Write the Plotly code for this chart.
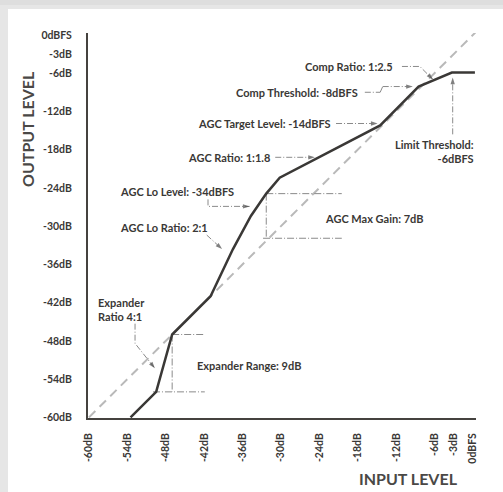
import plotly.graph_objects as go

# Transfer curve of the level processor (input dB -> output dB)
input_db = [-53.5, -49.5, -47.0, -41.0, -37.5, -34.7, -32.3, -30.2, -14.5, -8.5, -3.3, 0.3]
output_db = [-60.0, -56.0, -47.0, -41.0, -33.6, -28.4, -24.9, -22.4, -14.2, -8.1, -5.9, -5.9]

# Unity-gain reference
unity_db = [-60.0, 0.5]

# Axis ticks
tick_vals = [-60, -54, -48, -42, -36, -30, -24, -18, -12, -6, -3, 0]
tick_text = ["-60dB", "-54dB", "-48dB", "-42dB", "-36dB", "-30dB", "-24dB",
             "-18dB", "-12dB", "-6dB", "-3dB", "0dBFS"]

W, H = 503, 492
M_L, M_R, M_T, M_B = 88, 27, 33, 74
PW, PH = W - M_L - M_R, H - M_T - M_B

FONT = "Lato"
INK = "#3a3836"
GUIDE = "#8a8a8a"


def paper_x(px):
    return (px - M_L) / PW


def paper_y(py):
    return (H - M_B - py) / PH


fig = go.Figure()

# unity line
fig.add_trace(go.Scatter(x=unity_db, y=unity_db, mode="lines",
                         line=dict(color="#b9b9b9", width=2, dash="9px,6px"),
                         hoverinfo="skip", showlegend=False))

# guide brackets (expander range, AGC max gain)
guides = [
    ([-47.0, -41.9], [-47.0, -47.0]),
    ([-50.0, -41.9], [-56.0, -56.0]),
    ([-47.0, -47.0], [-47.0, -56.0]),
    ([-32.3, -20.5], [-24.9, -24.9]),
    ([-32.8, -20.5], [-31.9, -31.9]),
    ([-32.3, -32.3], [-24.9, -31.9]),
]
for gx, gy in guides:
    fig.add_trace(go.Scatter(x=gx, y=gy, mode="lines",
                             line=dict(color=GUIDE, width=1, dash="7px,2px,1px,2px"),
                             hoverinfo="skip", showlegend=False))

# main curve
fig.add_trace(go.Scatter(x=input_db, y=output_db, mode="lines",
                         line=dict(color=INK, width=2.5),
                         hoverinfo="skip", showlegend=False))

# callout leaders ending in arrowheads
leaders = [
    ([-11.1, -8.3, -6.25], [-4.95, -4.95, -7.0]),
    ([-16.9, -14.5, -14.1, -9.4], [-9.0, -9.0, -8.1, -8.1]),
    ([-21.4, -14.9], [-13.9, -13.9]),
    ([-30.9, -24.7], [-19.2, -19.2]),
    ([-41.4, -41.4, -34.9], [-25.8, -26.9, -26.9]),
    ([-41.6, -39.2], [-31.4, -33.6]),
    ([-3.17, -3.17], [-15.6, -6.7]),
    ([-52.8, -52.8, -49.7], [-45.3, -48.4, -52.3]),
]
for lx, ly in leaders:
    n = len(lx)
    fig.add_trace(go.Scatter(
        x=lx, y=ly, mode="lines+markers",
        line=dict(color=GUIDE, width=1, dash="6px,2px,1px,2px"),
        marker=dict(symbol=["circle"] * (n - 1) + ["arrow"],
                    size=[0] * (n - 1) + [7],
                    angleref="previous", color="#4a4a4a",
                    line=dict(width=0)),
        hoverinfo="skip", showlegend=False))

labels = [
    ("Comp Ratio: 1:2.5", -12.2, -5.0, "right"),
    ("Comp Threshold: -8dBFS", -17.7, -9.06, "right"),
    ("AGC Target Level: -14dBFS", -21.9, -13.9, "right"),
    ("AGC Ratio: 1:1.8", -31.4, -19.2, "right"),
    ("AGC Lo Level: -34dBFS", -55.5, -24.5, "left"),
    ("AGC Lo Ratio: 2:1", -55.5, -30.2, "left"),
    ("AGC Max Gain: 7dB", -23.4, -28.75, "left"),
    ("Limit Threshold:<br>-6dBFS", 0.4, -18.3, "right"),
    ("Expander<br>Ratio 4:1", -58.9, -43.0, "left"),
    ("Expander Range: 9dB", -43.4, -51.9, "left"),
]
for text, ax_, ay_, anchor in labels:
    fig.add_annotation(x=ax_, y=ay_, text=text, showarrow=False,
                       xanchor=anchor, yanchor="middle", align=anchor,
                       font=dict(family=FONT, size=11, color=INK, weight="bold"))

# axis titles
fig.add_annotation(x=paper_x(27), y=paper_y(129), xref="paper", yref="paper",
                   xanchor="center", yanchor="middle",
                   text="OUTPUT LEVEL", textangle=-90, showarrow=False,
                   font=dict(family=FONT, size=16, color="#4a4846", weight="bold"))
fig.add_annotation(x=paper_x(408), y=paper_y(478), xref="paper", yref="paper",
                   xanchor="center", yanchor="middle",
                   text="INPUT LEVEL", showarrow=False,
                   font=dict(family=FONT, size=16, color="#4a4846", weight="bold"))

# card frame with soft grey border at top and left
shapes = [
    dict(type="rect", xref="paper", yref="paper", layer="below",
         x0=paper_x(-5), x1=paper_x(W + 5), y0=paper_y(H + 5), y1=paper_y(-5),
         fillcolor="#e6e6e6", line=dict(width=0)),
    dict(type="rect", xref="paper", yref="paper", layer="below",
         x0=paper_x(-5), x1=paper_x(W + 5), y0=paper_y(5), y1=paper_y(-5),
         fillcolor="#dedede", line=dict(width=0)),
    dict(type="rect", xref="paper", yref="paper", layer="below",
         x0=paper_x(8), x1=paper_x(W + 5), y0=paper_y(H + 5), y1=paper_y(9),
         fillcolor="#ffffff", line=dict(width=0)),
]

axis_common = dict(
    tickvals=tick_vals, ticktext=tick_text, showgrid=False, zeroline=False,
    showline=True, linecolor="#45423f", linewidth=2, ticks="",
    tickfont=dict(family=FONT, size=10.5, color="#3a3836", weight="bold"),
    fixedrange=True,
)

fig.update_layout(
    width=W, height=H,
    margin=dict(l=M_L, r=M_R, t=M_T, b=M_B, pad=0),
    paper_bgcolor="#ffffff", plot_bgcolor="rgba(0,0,0,0)",
    xaxis=dict(range=[-60.15, 0.47], tickangle=-90, ticklabelstandoff=9, **axis_common),
    yaxis=dict(range=[-60.1, 0.3], ticklabelstandoff=12, **axis_common),
    shapes=shapes, showlegend=False,
)

fig.write_html("out.html")
